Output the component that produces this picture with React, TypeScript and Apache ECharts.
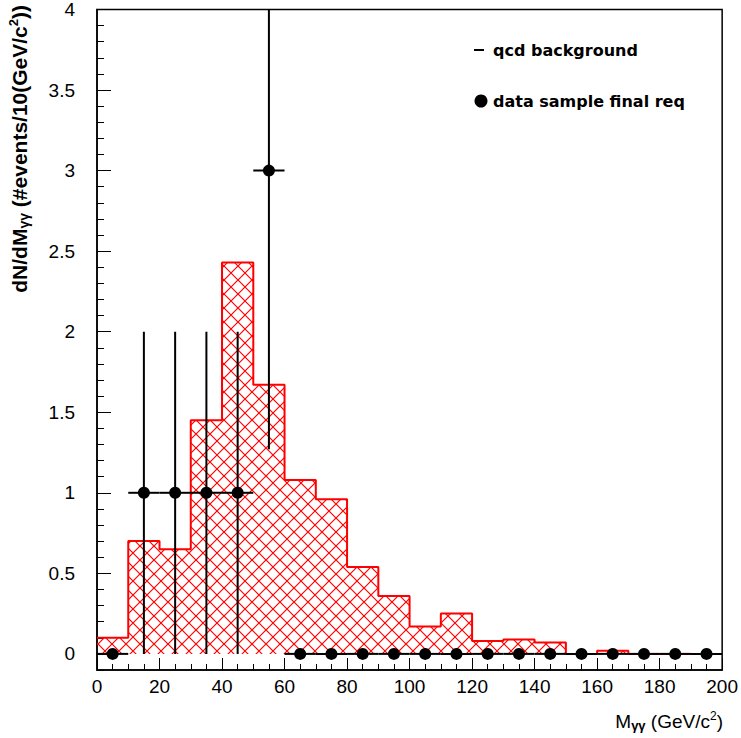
import React, { useEffect, useRef } from "react";
import * as echarts from "echarts";

// Histogram (qcd background), bins of 10 GeV from 0 to 200
const binStarts = [0, 10, 20, 30, 40, 50, 60, 70, 80, 90, 100, 110, 120, 130, 140, 150, 160, 170, 180, 190];
const binWidth = 10;
const qcdValues = [0.1, 0.7, 0.65, 1.45, 2.43, 1.67, 1.08, 0.96, 0.54, 0.36, 0.17, 0.25, 0.08, 0.09, 0.07, 0, 0.02, 0, 0, 0];

// Data sample points
const dataX = [5, 15, 25, 35, 45, 55, 65, 75, 85, 95, 105, 115, 125, 135, 145, 155, 165, 175, 185, 195];
const dataY = [0, 1, 1, 1, 1, 3, 0, 0, 0, 0, 0, 0, 0, 0, 0, 0, 0, 0, 0, 0];
const errLow = [0, 0, 0, 0, 0, 1.27, 0, 0, 0, 0, 0, 0, 0, 0, 0, 0, 0, 0, 0, 0];
const errHigh = [0, 2, 2, 2, 2, 4.73, 0, 0, 0, 0, 0, 0, 0, 0, 0, 0, 0, 0, 0, 0];
const xHalfWidth = 5;

const yMajorTicks = [0, 0.5, 1, 1.5, 2, 2.5, 3, 3.5, 4];

const T = 14;
const hatchSvg =
  `<svg xmlns='http://www.w3.org/2000/svg' width='${T}' height='${T}'>` +
  `<path d='M-1 -1 L${T + 1} ${T + 1} M${T + 1} -1 L-1 ${T + 1}' stroke='#ff0000' stroke-width='1.2' fill='none'/></svg>`;
const hatchUrl = "data:image/svg+xml;base64," + btoa(hatchSvg);

export default function App() {
  const ref = useRef<HTMLDivElement>(null);

  useEffect(() => {
    if (!ref.current) return;
    const chart = echarts.init(ref.current, undefined, { renderer: "svg" });

    const histData: number[][] = binStarts.map((x, i) => [x, qcdValues[i]]);
    histData.push([binStarts[binStarts.length - 1] + binWidth, qcdValues[qcdValues.length - 1]]);

    const errData = dataX.map((x, i) => [x, dataY[i], errLow[i], errHigh[i]]);
    const pts = dataX.map((x, i) => [x, dataY[i]]);

    const font = "Liberation Sans";

    chart.setOption({
      animation: false,
      backgroundColor: "#ffffff",
      grid: {
        left: 97,
        top: 9,
        right: 18,
        bottom: 68,
        show: true,
        borderColor: "#000",
        borderWidth: 1.5,
        backgroundColor: "transparent",
      },
      xAxis: {
        type: "value",
        min: 0,
        max: 200,
        interval: 20,
        axisLine: { show: true, onZero: false, lineStyle: { color: "#000", width: 1.5 } },
        axisTick: { show: true, inside: true, length: 12, lineStyle: { color: "#000", width: 1 } },
        minorTick: { show: true, splitNumber: 4, length: 6, lineStyle: { color: "#000", width: 1 } },
        splitLine: { show: false },
        axisLabel: { color: "#000", fontSize: 19, fontFamily: font, margin: 7 },
      },
      yAxis: [
        {
          type: "value",
          min: -0.1,
          max: 4,
          interval: 0.1,
          axisLine: { show: true, onZero: false, lineStyle: { color: "#000", width: 1.5 } },
          axisTick: { show: true, inside: true, length: 7, lineStyle: { color: "#000", width: 1 } },
          splitLine: { show: false },
          axisLabel: { show: false },
        },
        {
          type: "value",
          min: -0.1,
          max: 4,
          position: "left",
          axisLine: { show: false },
          axisTick: {
            show: true,
            inside: true,
            length: 14,
            customValues: yMajorTicks,
            lineStyle: { color: "#000", width: 1 },
          },
          splitLine: { show: false },
          axisLabel: {
            show: true,
            customValues: yMajorTicks,
            color: "#000",
            fontSize: 19,
            fontFamily: font,
            margin: 22,
            formatter: (v: number) => String(Math.round(v * 10) / 10),
          },
        },
      ],
      series: [
        {
          type: "line",
          step: "end",
          data: histData,
          symbol: "none",
          z: 1,
          lineStyle: { color: "#ff0000", width: 2 },
          areaStyle: {
            origin: 0,
            color: { image: hatchUrl, repeat: "repeat", imageWidth: T, imageHeight: T },
            opacity: 1,
          },
        },
        {
          type: "custom",
          clip: true,
          z: 2,
          data: errData,
          renderItem: (params: any, api: any) => {
            const x = api.value(0);
            const y = api.value(1);
            const lo = api.value(2);
            const hi = api.value(3);
            const l = api.coord([x - xHalfWidth, y]);
            const r = api.coord([x + xHalfWidth, y]);
            const children: any[] = [
              {
                type: "line",
                shape: { x1: l[0], y1: l[1], x2: r[0], y2: r[1] },
                style: { stroke: "#000", lineWidth: 2 },
              },
            ];
            if (hi > lo) {
              const b = api.coord([x, lo]);
              const t = api.coord([x, hi]);
              children.push({
                type: "line",
                shape: { x1: b[0], y1: b[1], x2: t[0], y2: t[1] },
                style: { stroke: "#000", lineWidth: 2 },
              });
            }
            return { type: "group", children };
          },
        },
        {
          type: "scatter",
          data: pts,
          symbol: "circle",
          symbolSize: 12,
          z: 3,
          itemStyle: { color: "#000", opacity: 1 },
        },
      ],
      graphic: [
        {
          type: "line",
          shape: { x1: 474, y1: 50, x2: 484, y2: 50 },
          style: { stroke: "#000", lineWidth: 2 },
        },
        {
          type: "text",
          x: 493,
          y: 50,
          style: {
            text: "qcd background",
            fontSize: 16,
            fontWeight: "bold",
            fontFamily: "DejaVu Sans",
            fill: "#000",
            verticalAlign: "middle",
          },
        },
        {
          type: "circle",
          shape: { cx: 481, cy: 101, r: 6.5 },
          style: { fill: "#000" },
        },
        {
          type: "text",
          x: 493,
          y: 101,
          style: {
            text: "data sample final req",
            fontSize: 16,
            fontWeight: "bold",
            fontFamily: "DejaVu Sans",
            fill: "#000",
            verticalAlign: "middle",
          },
        },
        {
          type: "text",
          x: 723,
          y: 721,
          style: {
            text: "M{sub|γγ} (GeV/c{sup|2})",
            fontSize: 19,
            fontFamily: font,
            fill: "#000",
            align: "right",
            verticalAlign: "middle",
            rich: {
              sub: { fontSize: 13, fontWeight: "bold", fontFamily: font, verticalAlign: "bottom", padding: [9, 0, 0, 0] },
              sup: { fontSize: 12, fontFamily: font, verticalAlign: "top", padding: [0, 0, 9, 0] },
            },
          },
        },
        {
          type: "text",
          x: 19,
          y: 5,
          rotation: Math.PI / 2,
          style: {
            text: "dN/dM{sub|γγ} (#events/10(GeV/c{sup|2}))",
            fontSize: 21,
            fontWeight: "bold",
            fontFamily: font,
            fill: "#000",
            align: "right",
            verticalAlign: "middle",
            rich: {
              sub: { fontSize: 14, fontWeight: "bold", fontFamily: font, verticalAlign: "bottom", padding: [10, 0, 0, 0] },
              sup: { fontSize: 13, fontWeight: "bold", fontFamily: font, verticalAlign: "top", padding: [0, 0, 10, 0] },
            },
          },
        },
      ],
    });

    return () => chart.dispose();
  }, []);

  return (
    <div
      ref={ref}
      style={{ position: "fixed", left: 0, top: 0, width: 741, height: 738, background: "#fff" }}
    />
  );
}
